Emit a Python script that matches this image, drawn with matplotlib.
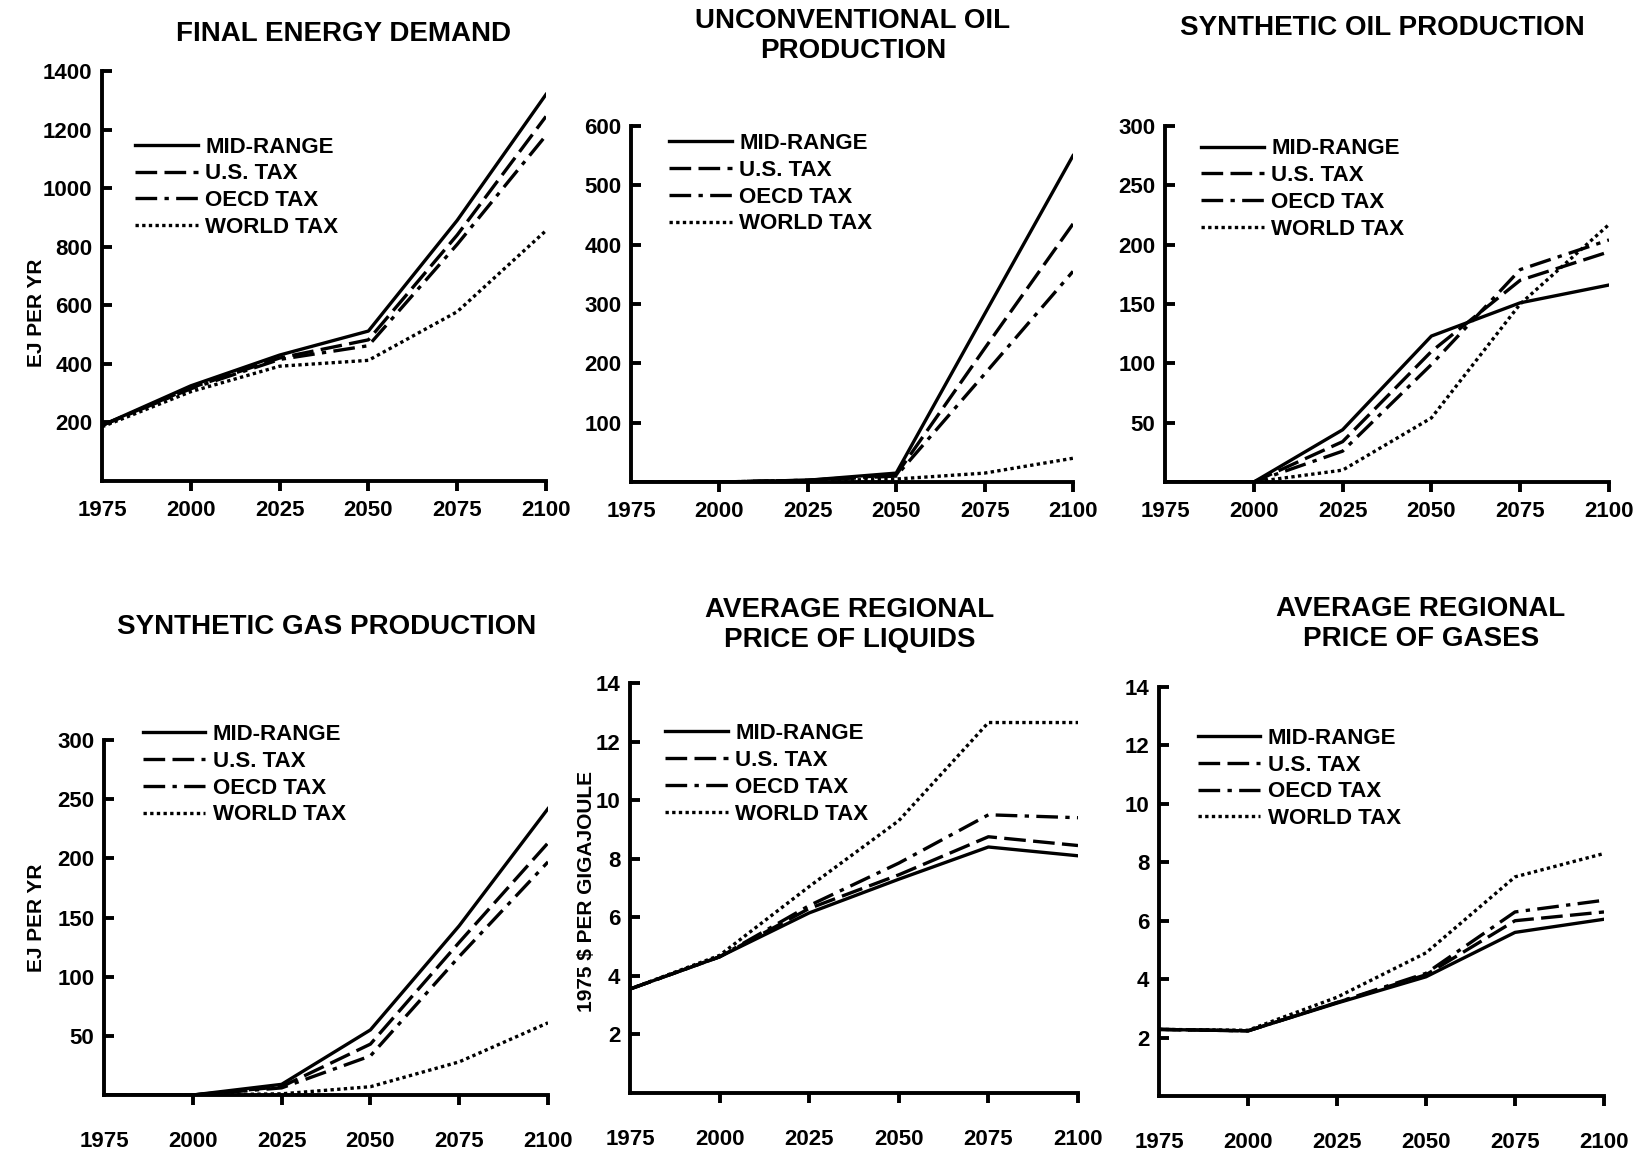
import matplotlib
matplotlib.use("agg")
import matplotlib.pyplot as plt

plt.rcParams["font.family"] = ["Liberation Sans", "DejaVu Sans"]

W, H = 1636, 1154

years = [1975, 2000, 2025, 2050, 2075, 2100]
scenarios = ["MID-RANGE", "U.S. TAX", "OECD TAX", "WORLD TAX"]

# final energy demand (EJ per yr)
energy_mid = [190, 325, 430, 512, 890, 1320]
energy_us = [190, 318, 420, 482, 840, 1245]
energy_oecd = [190, 315, 415, 462, 808, 1180]
energy_world = [185, 305, 392, 412, 578, 855]

# unconventional oil production (EJ per yr)
uncon_mid = [0, 0, 3, 15, 283, 550]
uncon_us = [0, 0, 3, 12, 225, 435]
uncon_oecd = [0, 0, 3, 10, 182, 355]
uncon_world = [0, 0, 2, 5, 15, 40]

# synthetic oil production (EJ per yr)
synoil_mid = [0, 0, 44, 123, 151, 166]
synoil_us = [0, 0, 34, 110, 170, 194]
synoil_oecd = [0, 0, 26, 99, 179, 204]
synoil_world = [0, 0, 10, 54, 150, 217]

# synthetic gas production (EJ per yr)
syngas_mid = [0, 0, 9, 55, 143, 242]
syngas_us = [0, 0, 7, 43, 129, 213]
syngas_oecd = [0, 0, 6, 33, 117, 197]
syngas_world = [0, 0, 1, 7, 28, 61]

# average regional price of liquids (1975 $ per GJ)
liq_mid = [3.55, 4.65, 6.15, 7.3, 8.4, 8.1]
liq_us = [3.55, 4.65, 6.3, 7.45, 8.75, 8.45]
liq_oecd = [3.55, 4.65, 6.4, 7.85, 9.5, 9.4]
liq_world = [3.55, 4.7, 7.05, 9.3, 12.65, 12.65]

# average regional price of gases (1975 $ per GJ)
gas_mid = [2.28, 2.23, 3.18, 4.08, 5.6, 6.05]
gas_us = [2.28, 2.23, 3.2, 4.15, 6.0, 6.3]
gas_oecd = [2.28, 2.23, 3.2, 4.2, 6.3, 6.7]
gas_world = [2.28, 2.25, 3.38, 4.9, 7.5, 8.3]

styles = [
    dict(ls="-"),
    dict(ls=(0, (6.5, 2.2))),
    dict(ls=(0, (6.5, 2.2, 1.3, 2.2))),
    dict(ls=(0, (1.0, 1.0))),
]

# panel: data, ylim top, yticks, axes box in pixels (left, top, right, bottom),
# legend anchor (axes fraction)
panels = [
    ([energy_mid, energy_us, energy_oecd, energy_world], 1400,
     range(200, 1401, 200), (102, 71, 546, 481), (0.075, 0.84)),
    ([uncon_mid, uncon_us, uncon_oecd, uncon_world], 600,
     range(100, 601, 100), (631, 126, 1073, 482), (0.087, 0.98)),
    ([synoil_mid, synoil_us, synoil_oecd, synoil_world], 300,
     range(50, 301, 50), (1165, 126, 1609, 482), (0.082, 0.965)),
    ([syngas_mid, syngas_us, syngas_oecd, syngas_world], 300,
     range(50, 301, 50), (104, 740, 548, 1095), (0.087, 1.045)),
    ([liq_mid, liq_us, liq_oecd, liq_world], 14,
     range(2, 15, 2), (630, 683, 1078, 1093), (0.079, 0.902)),
    ([gas_mid, gas_us, gas_oecd, gas_world], 14,
     range(2, 15, 2), (1159, 687, 1604, 1096), (0.087, 0.9)),
]

titles = [
    ("FINAL ENERGY DEMAND", 343, 34),
    ("UNCONVENTIONAL OIL\nPRODUCTION", 853, 36),
    ("SYNTHETIC OIL PRODUCTION", 1382, 28),
    ("SYNTHETIC GAS PRODUCTION", 327, 627),
    ("AVERAGE REGIONAL\nPRICE OF LIQUIDS", 850, 625),
    ("AVERAGE REGIONAL\nPRICE OF GASES", 1421, 624),
]

ylabels = [
    ("EJ PER YR", 37, 313),
    ("EJ PER YR", 37, 918),
    ("1975 $ PER GIGAJOULE", 587, 892),
]


def main():
    fig = plt.figure(figsize=(W / 100, H / 100), dpi=100)

    for i, (series, ytop, yt, box, leg) in enumerate(panels):
        l, t, r, b = box
        ax = fig.add_axes([l / W, 1 - b / H, (r - l) / W, (b - t) / H])
        for vals, name, st in zip(series, scenarios, styles):
            ax.plot(years, vals, color="black", lw=2.4, label=name, **st)
        ax.set_xlim(1975, 2100)
        ax.set_ylim(0, ytop)
        ax.set_xticks(years)
        ax.set_yticks(list(yt))
        for s in ["top", "right"]:
            ax.spines[s].set_visible(False)
        for s in ["left", "bottom"]:
            ax.spines[s].set_linewidth(2.8)
        pad_x = 7 if i < 3 else 19
        ax.tick_params(axis="x", direction="out", length=7, width=2.8,
                       pad=pad_x, labelsize=16)
        ax.tick_params(axis="y", direction="in", length=7, width=2.8,
                       pad=7, labelsize=16)
        for lab in ax.get_xticklabels() + ax.get_yticklabels():
            lab.set_fontweight("bold")
        ax.xaxis.get_major_ticks()[0].tick1line.set_visible(False)
        ax.legend(loc="upper left", bbox_to_anchor=leg, frameon=False,
                  prop=dict(size=16, weight="bold"), handlelength=2.8,
                  handletextpad=0.35, labelspacing=0.26, borderpad=0,
                  borderaxespad=0)

    for txt, x, y in titles:
        fig.text(x / W, 1 - y / H, txt, ha="center", va="center",
                 fontsize=20, fontweight="bold", linespacing=1.2)

    for txt, x, y in ylabels:
        fig.text(x / W, 1 - y / H, txt, ha="center", va="center",
                 rotation=90, fontsize=15, fontweight="bold")

    fig.savefig("out.png", dpi=100)


if __name__ == "__main__":
    main()
